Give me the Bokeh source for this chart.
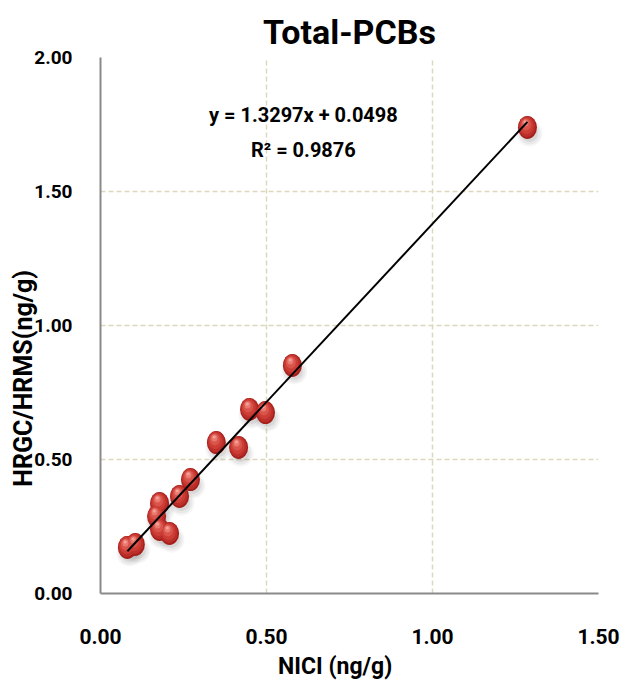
from bokeh.plotting import figure
from bokeh.models import FixedTicker, PrintfTickFormatter, Label, Range1d
from bokeh.embed import file_html
from bokeh.resources import INLINE
import numpy as np

# NICI vs HRGC/HRMS results for total PCBs (ng/g)
nici = [1.286, 0.578, 0.449, 0.497, 0.349, 0.416, 0.271, 0.238,
        0.178, 0.169, 0.178, 0.208, 0.081, 0.105]
hrms = [1.739, 0.851, 0.687, 0.675, 0.563, 0.545, 0.425, 0.362,
        0.336, 0.287, 0.239, 0.224, 0.172, 0.183]

slope = 1.3297
intercept = 0.0498
r_squared = 0.9876

x_ticks = [0.0, 0.5, 1.0, 1.5]
y_ticks = [0.0, 0.5, 1.0, 1.5, 2.0]

W, H = 623, 687
BL, BR, BT, BB = 100, 25, 57, 94
FONT = "Roboto"

p = figure(width=W, height=H, output_backend="svg", toolbar_location=None,
           x_range=Range1d(0, 1.5), y_range=Range1d(0, 2.0),
           min_border_left=BL, min_border_right=BR,
           min_border_top=BT, min_border_bottom=BB,
           title="Total-PCBs")
p.outline_line_color = None
p.background_fill_color = "white"
p.border_fill_color = "white"

p.title.align = "center"
p.title.text_font = FONT
p.title.text_font_style = "bold"
p.title.text_font_size = "34px"
p.title.text_color = "black"
p.title.standoff = 11

# pixel -> data conversion for small visual offsets of the sphere shading
fw = W - BL - BR
fh = H - BT - BB
px_x = 1.5 / fw
px_y = 2.0 / fh

for ax in (p.xaxis[0], p.yaxis[0]):
    ax.major_tick_line_color = None
    ax.minor_tick_line_color = None
    ax.axis_line_color = "#8a8a8a"
    ax.axis_line_width = 2
    ax.major_label_text_font = FONT
    ax.major_label_text_font_style = "bold"
    ax.major_label_text_color = "black"
    ax.formatter = PrintfTickFormatter(format="%.2f")

p.xaxis[0].major_label_text_font_size = "21px"
p.yaxis[0].major_label_text_font_size = "19px"
p.xaxis[0].ticker = FixedTicker(ticks=x_ticks)
p.yaxis[0].ticker = FixedTicker(ticks=y_ticks)
p.xaxis[0].major_label_standoff = 29
p.yaxis[0].major_label_standoff = 22

# axis titles are shifted off-centre with trailing no-break spaces
p.xaxis[0].axis_label = "NICI (ng/g)" + "\u00a0" * 5
p.xaxis[0].axis_label_text_font = FONT
p.xaxis[0].axis_label_text_font_style = "bold"
p.xaxis[0].axis_label_text_font_size = "23px"
p.xaxis[0].axis_label_text_color = "black"
p.xaxis[0].axis_label_standoff = 6

p.yaxis[0].axis_label = "HRGC/HRMS(ng/g)" + "\u00a0" * 17
p.yaxis[0].axis_label_text_font = FONT
p.yaxis[0].axis_label_text_font_style = "bold"
p.yaxis[0].axis_label_text_font_size = "25px"
p.yaxis[0].axis_label_text_color = "black"
p.yaxis[0].axis_label_standoff = -7

for g in (p.xgrid[0], p.ygrid[0]):
    g.grid_line_color = "#dcd8bd"
    g.grid_line_width = 1.5
    g.grid_line_dash = "5 3"
p.xgrid[0].ticker = FixedTicker(ticks=x_ticks)
p.ygrid[0].ticker = FixedTicker(ticks=y_ticks)

x = np.array(nici)
y = np.array(hrms)

# soft drop shadow under each sphere
for w, h, a in [(26, 26, 0.05), (22, 22, 0.08), (17, 17, 0.11)]:
    p.ellipse(x + 2 * px_x, y - 6 * px_y, width=w, height=h,
              width_units="screen", height_units="screen",
              fill_color="#555555", fill_alpha=a, line_color=None)

# sphere body with layered highlights
layers = [
    (19, 23, "#a3201d", 0, 0),
    (17, 21, "#bb2e29", -0.5, 0.8),
    (14, 17, "#cc3d35", -1.0, 1.8),
    (10, 12, "#d9554c", -1.5, 3.0),
    (6, 7, "#e87a70", -2.0, 4.5),
    (3, 3, "#f4a39b", -2.2, 5.5),
]
for w, h, c, dx, dy in layers:
    p.ellipse(x + dx * px_x, y + dy * px_y, width=w, height=h,
              width_units="screen", height_units="screen",
              fill_color=c, line_color=None)

# linear trend line over the data range
xl = np.array([x.min(), x.max()])
p.line(xl, slope * xl + intercept, line_color="black", line_width=2)

eq_font = dict(text_font=FONT, text_font_style="bold", text_font_size="20px",
               text_color="black", text_align="center", text_baseline="middle")
p.add_layout(Label(x=0.611, y=1.785,
                   text=f"y = {slope:.4f}x + {intercept:.4f}", **eq_font))
p.add_layout(Label(x=0.611, y=1.653,
                   text=f"R\u00b2 = {r_squared:.4f}", **eq_font))

open("out.html", "w").write(file_html(p, INLINE))
